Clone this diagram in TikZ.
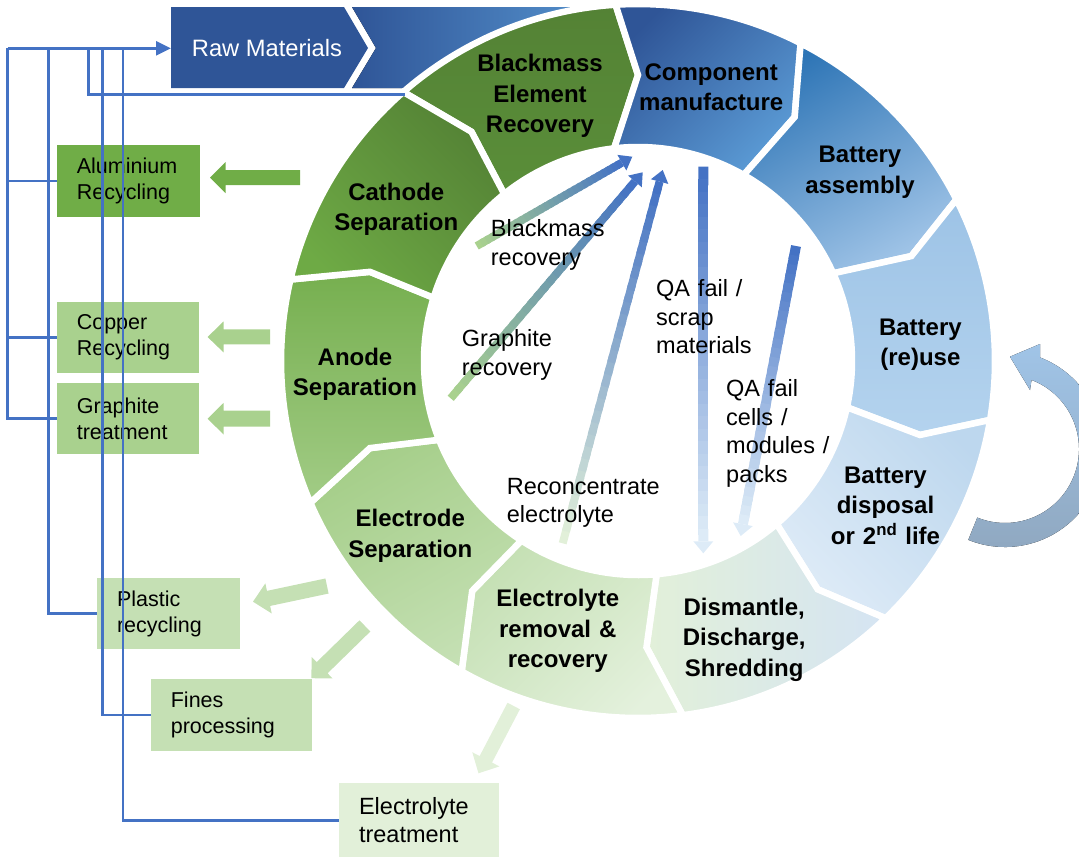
\documentclass[tikz,border=0pt]{standalone}
\usepackage{fontspec}
\setmainfont{Liberation Sans}
\usetikzlibrary{calc,arrows.meta}

\definecolor{cBlue}{HTML}{4472C4}
\definecolor{dkBlue}{HTML}{2F5597}
\definecolor{mdBlue}{HTML}{5B9BD5}
\definecolor{gA}{HTML}{70AD47}
\definecolor{gB}{HTML}{A9D18E}
\definecolor{gC}{HTML}{C5E0B4}
\definecolor{gD}{HTML}{E2F0D9}
\definecolor{paleBlue}{HTML}{DDEBF7}
\definecolor{bm1}{HTML}{548235}
\definecolor{bm2}{HTML}{5A8E39}
\definecolor{ba1}{HTML}{2E75B6}
\definecolor{ba2}{HTML}{A0C4E7}
\definecolor{ru1}{HTML}{9DC3E6}
\definecolor{ru2}{HTML}{B4D3EE}
\definecolor{bd1}{HTML}{BDD7EE}
\definecolor{bd2}{HTML}{DEEBF7}
\definecolor{ds1}{HTML}{E2F0D9}
\definecolor{ds2}{HTML}{D5E4F3}
\definecolor{er2}{HTML}{E4F1DD}
\definecolor{es1}{HTML}{A5CE89}
\definecolor{an1}{HTML}{76AF4F}
\definecolor{an2}{HTML}{A2CC86}
\definecolor{ca2}{HTML}{6EAA45}
\definecolor{cv1}{HTML}{A0C4E7}
\definecolor{cv2}{HTML}{8FA7BF}

\def\rcx{638}\def\rcy{361}\def\rRo{357}\def\rRi{214}

% ring segment: #1 style, #2 outer start, #3 outer end, #4 tip start, #5 tip radius start,
% #6 tip end, #7 tip radius end, #8 inner start, #9 inner end   (angles in degrees, counter-clockwise)
\newcommand\ringseg[9]{%
  \path[segline,#1] ({\rcx+\rRo*cos(#2)},{\rcy-\rRo*sin(#2)})
    arc[start angle={-(#2)}, end angle={-(#3)}, radius=\rRo]
    -- ({\rcx+(#7)*cos(#6)},{\rcy-(#7)*sin(#6)})
    -- ({\rcx+\rRi*cos(#9)},{\rcy-\rRi*sin(#9)})
    arc[start angle={-(#9)}, end angle={-(#8)}, radius=\rRi]
    -- ({\rcx+(#5)*cos(#4)},{\rcy-(#5)*sin(#4)})
    -- cycle;}

% gradient arrow: #1 tail colour, #2 tip colour, #3 tail, #4 tip, #5 shaft width, #6 head half width, #7 head length
\newcommand\gradarrow[7]{%
  \coordinate (gah) at ($(#4)!#7!(#3)$);
  \foreach \k in {0,...,29}{%
    \pgfmathsetmacro\gaa{\k/30}%
    \pgfmathsetmacro\gab{min((\k+1.5)/30,1)}%
    \pgfmathtruncatemacro\gac{round(100*\k/29)}%
    \draw[line width=#5, draw={#2!\gac!#1}] ($(#3)!\gaa!(gah)$) -- ($(#3)!\gab!(gah)$);
  }%
  \fill[#2] (#4) -- ($(gah)!#6!90:(#4)$) -- ($(gah)!#6!-90:(#4)$) -- cycle;
}

% block arrow: #1 colour, #2 tail, #3 tip, #4 shaft half width, #5 head half width, #6 head length
\newcommand\blkarrow[6]{%
  \coordinate (bah) at ($(#3)!#6!(#2)$);
  \fill[#1] ($(#2)!#4!90:(#3)$) -- ($(bah)!#4!90:(#3)$) -- ($(bah)!#5!90:(#3)$) -- (#3)
    -- ($(bah)!#5!-90:(#3)$) -- ($(bah)!#4!-90:(#3)$) -- ($(#2)!#4!-90:(#3)$) -- cycle;
}

\begin{document}
\begin{tikzpicture}[x=1pt,y=-1pt,
  segline/.style={draw=white, line width=6.5pt},
  ringlbl/.style={font=\fontsize{24}{30.5}\selectfont\bfseries, text width=180pt, align=center, anchor=base, inner sep=0pt},
  inlbl/.style={font=\fontsize{23.5}{28.5}\selectfont, text width=180pt, align=left, anchor=base west, inner sep=0pt},
  boxn/.style={rectangle, inner xsep=20pt, inner ysep=0pt, align=left, font=\fontsize{21.5}{26}\selectfont},
  conn/.style={draw=cBlue, line width=2.8pt}]
\useasboundingbox (0,0) rectangle (1079,857);
\begin{scope}
\clip (0,0) rectangle (1079,857);

% Raw materials banner
\fill[dkBlue] (171,7) -- (344,7) -- (368,48) -- (344,88) -- (171,88) -- cycle;
\fill[left color=dkBlue, right color=mdBlue] (352,7) -- (640,7) -- (640,88) -- (352,88) -- (376,48) -- cycle;
\node[anchor=base west, inner sep=0pt, text=white, font=\fontsize{23.7}{28}\selectfont] (rawtxt) at (191.7,56.7) {Raw Materials};
\coordinate (rawW) at (171,48.3);

% ring segments
\ringseg{top color=bm1, bottom color=bm2}{131.1}{93.6}{126.0}{283.3}{90.0}{286}{128.7}{96.4}
\ringseg{top color=dkBlue, bottom color=mdBlue, shading angle=45}{93.6}{62.9}{90.0}{286}{57.3}{290}{96.4}{60.4}
\ringseg{top color=ba1, bottom color=ba2, shading angle=30}{62.9}{26.9}{57.3}{290}{21.0}{292.8}{60.4}{24.2}
\ringseg{top color=ru1, bottom color=ru2}{26.9}{-9.5}{21.0}{292.8}{-14.7}{291.5}{24.2}{-12.5}
\ringseg{top color=bd1, bottom color=bd2, shading angle=-45}{-9.5}{-46.1}{-14.7}{291.5}{-51.8}{290.6}{-12.5}{-49.6}
\ringseg{left color=ds1, right color=ds2}{-46.1}{-82.8}{-51.8}{290.6}{-88.3}{286.4}{-49.6}{-85.0}
\ringseg{top color=gC, bottom color=er2, shading angle=45}{-82.8}{-119.6}{-88.3}{286.4}{-125.8}{283.5}{-85.0}{-123.0}
\ringseg{top color=es1, bottom color=gC, shading angle=30}{-119.6}{-156.6}{-125.8}{283.5}{-162.0}{281.9}{-123.0}{-158.4}
\ringseg{top color=an1, bottom color=an2}{-156.6}{-193.2}{-162.0}{281.9}{-198.4}{282.5}{-158.4}{-197.2}
\ringseg{top color=bm1, bottom color=ca2, shading angle=-45}{166.8}{131.1}{161.6}{282.5}{126.0}{283.3}{162.8}{128.7}
\coordinate (ringpt) at (405.1,94.4);

% ring labels
\node[ringlbl] (lbm) at (540,71.7) {Blackmass\\Element\\Recovery};
\node[ringlbl] (lcm) at (711.2,80) {Component\\manufacture};
\node[ringlbl] (lba) at (860,162.7) {Battery\\assembly};
\node[ringlbl] (lru) at (920.4,335) {Battery\\(re)use};
\node[ringlbl] (lbd) at (885.5,483.3) {Battery\\disposal\\or 2\textsuperscript{nd} life};
\node[ringlbl] (lds) at (744.2,615) {Dismantle,\\Discharge,\\Shredding};
\node[ringlbl] (ler) at (557.8,606.7) {Electrolyte\\removal \&\\recovery};
\node[ringlbl] (les) at (410.3,526.7) {Electrode\\Separation};
\node[ringlbl] (lan) at (355,365) {Anode\\Separation};
\node[ringlbl] (lca) at (396.3,200) {Cathode\\Separation};

% block arrows out of the ring
\coordinate (alT) at (300.2,177.5); \coordinate (alP) at (210,177.5);
\coordinate (cuT) at (270.2,336.8); \coordinate (cuP) at (207.6,337);
\coordinate (grT) at (270.2,418.7); \coordinate (grP) at (207.6,418.7);
\coordinate (plT) at (327,586);     \coordinate (plP) at (253,601.7);
\coordinate (fiT) at (364.9,625.9); \coordinate (fiP) at (311.4,678.2);
\coordinate (etT) at (513.7,706);   \coordinate (etP) at (478.5,773.3);
\blkarrow{gA}{alT}{alP}{7.5pt}{15.5pt}{15.5pt}
\blkarrow{gB}{cuT}{cuP}{7.5pt}{15.5pt}{16pt}
\blkarrow{gB}{grT}{grP}{8pt}{15.8pt}{16pt}
\blkarrow{gC}{plT}{plP}{7.7pt}{15.4pt}{15.9pt}
\blkarrow{gC}{fiT}{fiP}{7.8pt}{15pt}{15pt}
\blkarrow{gD}{etT}{etP}{7pt}{15.3pt}{15.8pt}

% output boxes
\node[boxn, fill=gA, text width=102.9pt, minimum height=71.7pt] (alu) at (128.3,180.9) {Aluminium\\Recycling};
\node[boxn, fill=gB, text width=102.2pt, minimum height=71.6pt] (cu) at (127.9,337.5) {Copper\\Recycling};
\node[boxn, fill=gB, text width=102.2pt, minimum height=71pt] (gr) at (127.9,418.8) {Graphite\\treatment};
\node[boxn, fill=gC, text width=103pt, minimum height=71pt] (pl) at (168.5,613.8) {Plastic\\recycling};
\node[boxn, fill=gC, text width=120.7pt, minimum height=71.7pt] (fi) at (231.2,714.9) {Fines\\processing};
\node[boxn, fill=gD, text width=119.5pt, minimum height=73.7pt, font=\fontsize{23.5}{28}\selectfont] (et) at (418.8,820.2) {Electrolyte\\treatment};

% connectors back to raw materials
\coordinate (j1) at (7.6,48.3);
\coordinate (j2) at (48.2,48.3);
\coordinate (j3) at (88.5,48.3);
\coordinate (j4) at (102.2,48.3);
\coordinate (j5) at (122.9,48.3);
\draw[conn] (alu.west) -| (j1);
\draw[conn] (cu.west) -| (j1);
\draw[conn] (gr.west) -| (j1);
\draw[conn] (pl.west) -| (j2);
\draw[conn] (ringpt) -| (j3);
\draw[conn] (fi.west) -| (j4);
\draw[conn] (et.west) -| (j5);
\draw[conn, -{Triangle[length=15pt,width=14pt]}] (j1) -- (rawW);

% inner gradient arrows
\coordinate (a1s) at (476.7,246);   \coordinate (a1e) at (632.3,156.7);
\coordinate (a2s) at (450.7,398.3); \coordinate (a2e) at (642.7,172.3);
\coordinate (a3s) at (562.7,543.3); \coordinate (a3e) at (662.7,170);
\coordinate (a4s) at (703.3,166.7); \coordinate (a4e) at (703.3,553.3);
\coordinate (a5s) at (796,246);     \coordinate (a5e) at (740.7,536);
\gradarrow{gB}{cBlue}{a1s}{a1e}{8pt}{9pt}{12pt}
\gradarrow{gB}{cBlue}{a2s}{a2e}{8pt}{9pt}{12pt}
\gradarrow{gD}{cBlue}{a3s}{a3e}{8pt}{9pt}{12pt}
\gradarrow{cBlue}{paleBlue}{a4s}{a4e}{10pt}{10pt}{12pt}
\gradarrow{cBlue}{paleBlue}{a5s}{a5e}{10pt}{10pt}{12pt}

% inner labels
\node[inlbl] (tbm) at (490.7,236.7) {Blackmass\\recovery};
\node[inlbl] (tgr) at (461.7,346.7) {Graphite\\recovery};
\node[inlbl] (tqa) at (656,296.7) {QA fail /\\scrap\\materials};
\node[inlbl] (tqc) at (726,396.7) {QA fail\\cells /\\modules /\\packs};
\node[inlbl] (tre) at (506.7,494) {Reconcentrate\\electrolyte};

% curved re-use arrow
\fill[top color=cv1, bottom color=cv2]
  ({1005+98*cos(-112)},{449-98*sin(-112)}) arc[start angle=112, end angle=-69, radius=98]
  -- (1040,344) -- (1010,356.7) -- (1030,390)
  -- ({1005+74*cos(69)},{449-74*sin(69)}) arc[start angle=-69, end angle=112, radius=74]
  -- cycle;
\end{scope}
\end{tikzpicture}
\end{document}
